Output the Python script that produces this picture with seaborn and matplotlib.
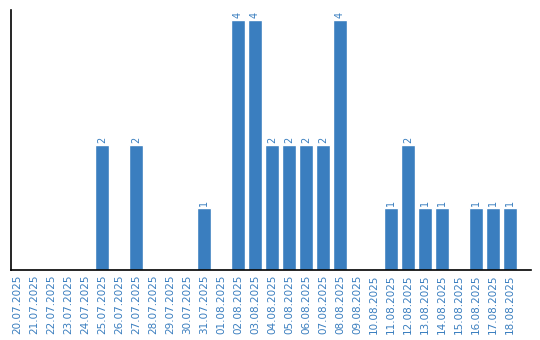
import matplotlib
matplotlib.use("Agg")
import matplotlib.pyplot as plt
import seaborn as sns
import pandas as pd

dates = ["20.07.2025", "21.07.2025", "22.07.2025", "23.07.2025", "24.07.2025",
         "25.07.2025", "26.07.2025", "27.07.2025", "28.07.2025", "29.07.2025",
         "30.07.2025", "31.07.2025", "01.08.2025", "02.08.2025", "03.08.2025",
         "04.08.2025", "05.08.2025", "06.08.2025", "07.08.2025", "08.08.2025",
         "09.08.2025", "10.08.2025", "11.08.2025", "12.08.2025", "13.08.2025",
         "14.08.2025", "15.08.2025", "16.08.2025", "17.08.2025", "18.08.2025"]
counts = [0, 0, 0, 0, 0, 2, 0, 2, 0, 0, 0, 1, 0, 4, 4,
          2, 2, 2, 2, 4, 0, 0, 1, 2, 1, 1, 0, 1, 1, 1]

color = "#3a7ebf"
df = pd.DataFrame({"date": dates, "count": counts})

sns.set_style("white")
fig = plt.figure(figsize=(5.4, 3.4), dpi=100)
ax = fig.add_axes([11/540, 70/340, 520/540, 260/340])
sns.barplot(data=df, x="date", y="count", color=color, saturation=1, width=0.82, ax=ax)

ax.set_ylim(0, 4.16)
ax.set_xlim(-0.353, len(dates) - 1 + 1.235)
ax.set_xlabel("")
ax.set_ylabel("")
ax.set_yticks([])
ax.tick_params(axis="x", length=0, pad=3)
for lab in ax.get_xticklabels():
    lab.set_rotation(90)
    lab.set_fontsize(7.5)
    lab.set_color(color)

for i, v in enumerate(counts):
    if v > 0:
        ax.text(i, v + 0.03, str(v), rotation=90, ha="center", va="bottom",
                fontsize=7, color=color)

sns.despine(ax=ax, top=True, right=True)
for s in ["left", "bottom"]:
    ax.spines[s].set_color("black")
    ax.spines[s].set_linewidth(1.2)

fig.savefig("out.png", dpi=100)
